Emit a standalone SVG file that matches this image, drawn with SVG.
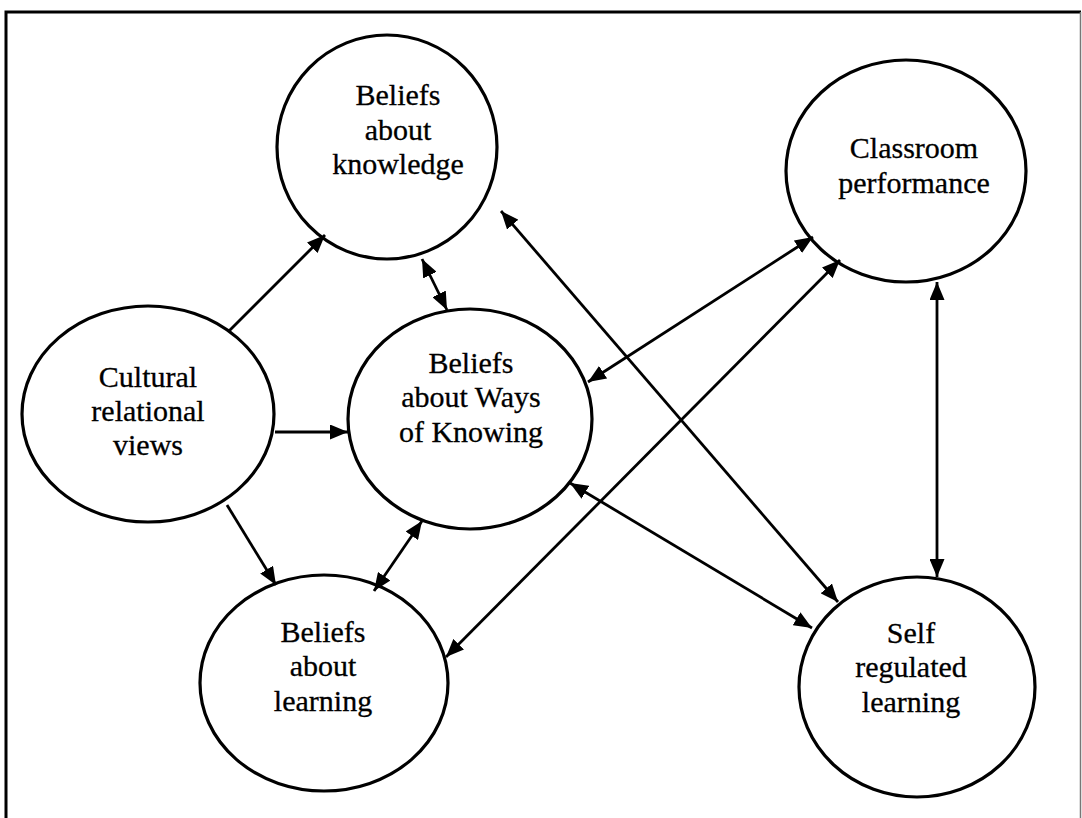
<svg xmlns="http://www.w3.org/2000/svg" width="1082" height="818" viewBox="0 0 1082 818">
  <style>
    .node ellipse { fill: #ffffff; stroke: #000000; stroke-width: 3.2; }
    .node text { font-family: "Liberation Serif", "Times New Roman", serif; font-size: 30px; fill: #000000; text-anchor: middle; stroke: #000000; stroke-width: 0.3; }
    .link { stroke: #000000; stroke-width: 2.8; fill: none; }
    .one { marker-end: url(#head); }
    .two { marker-start: url(#head); marker-end: url(#head); }
  </style>
  <defs>
    <marker id="head" viewBox="0 0 18 15" refX="18" refY="7.5" markerWidth="18" markerHeight="15" markerUnits="userSpaceOnUse" orient="auto-start-reverse">
      <path d="M0,0 L18,7.5 L0,15 z" fill="#000000"/>
    </marker>
  </defs>

  <rect x="0" y="0" width="1082" height="818" fill="#ffffff"/>
  <!-- frame -->
  <path d="M6,830 L6,12 L1081,12" fill="none" stroke="#000000" stroke-width="3"/>
  <line x1="1080.5" y1="12" x2="1080.5" y2="830" stroke="#777777" stroke-width="1.5"/>

  <g id="knowledge" class="node">
    <ellipse cx="387" cy="147" rx="110" ry="112"/>
    <text x="398" y="105">Beliefs</text>
    <text x="398" y="140">about</text>
    <text x="398" y="174">knowledge</text>
  </g>

  <g id="classroom" class="node">
    <ellipse cx="906" cy="171" rx="120" ry="111"/>
    <text x="914" y="158">Classroom</text>
    <text x="914" y="193">performance</text>
  </g>

  <g id="cultural" class="node">
    <ellipse cx="148" cy="414" rx="126" ry="108"/>
    <text x="148" y="387">Cultural</text>
    <text x="148" y="421">relational</text>
    <text x="148" y="455">views</text>
  </g>

  <g id="ways" class="node">
    <ellipse cx="470" cy="419" rx="122" ry="110"/>
    <text x="471" y="373">Beliefs</text>
    <text x="471" y="407">about Ways</text>
    <text x="471" y="442">of Knowing</text>
  </g>

  <g id="learning" class="node">
    <ellipse cx="324" cy="683" rx="124" ry="108"/>
    <text x="323" y="642">Beliefs</text>
    <text x="323" y="676">about</text>
    <text x="323" y="711">learning</text>
  </g>

  <g id="selfreg" class="node">
    <ellipse cx="917" cy="687" rx="118" ry="110"/>
    <text x="911" y="643">Self</text>
    <text x="911" y="677">regulated</text>
    <text x="911" y="712">learning</text>
  </g>

  <g id="connectors">
    <line class="link one" x1="229" y1="331" x2="325" y2="235"/>
    <line class="link one" x1="275" y1="432" x2="348" y2="432"/>
    <line class="link one" x1="227" y1="505" x2="276" y2="585"/>
    <line class="link two" x1="422" y1="259" x2="447" y2="310"/>
    <line class="link two" x1="422" y1="521" x2="374" y2="591"/>
    <line class="link two" x1="501" y1="211" x2="838" y2="602"/>
    <line class="link two" x1="588" y1="382" x2="813" y2="237"/>
    <line class="link two" x1="446" y1="657" x2="840" y2="260"/>
    <line class="link two" x1="570" y1="483" x2="812" y2="628"/>
    <line class="link two" x1="937" y1="282" x2="937" y2="577"/>
  </g>
</svg>
